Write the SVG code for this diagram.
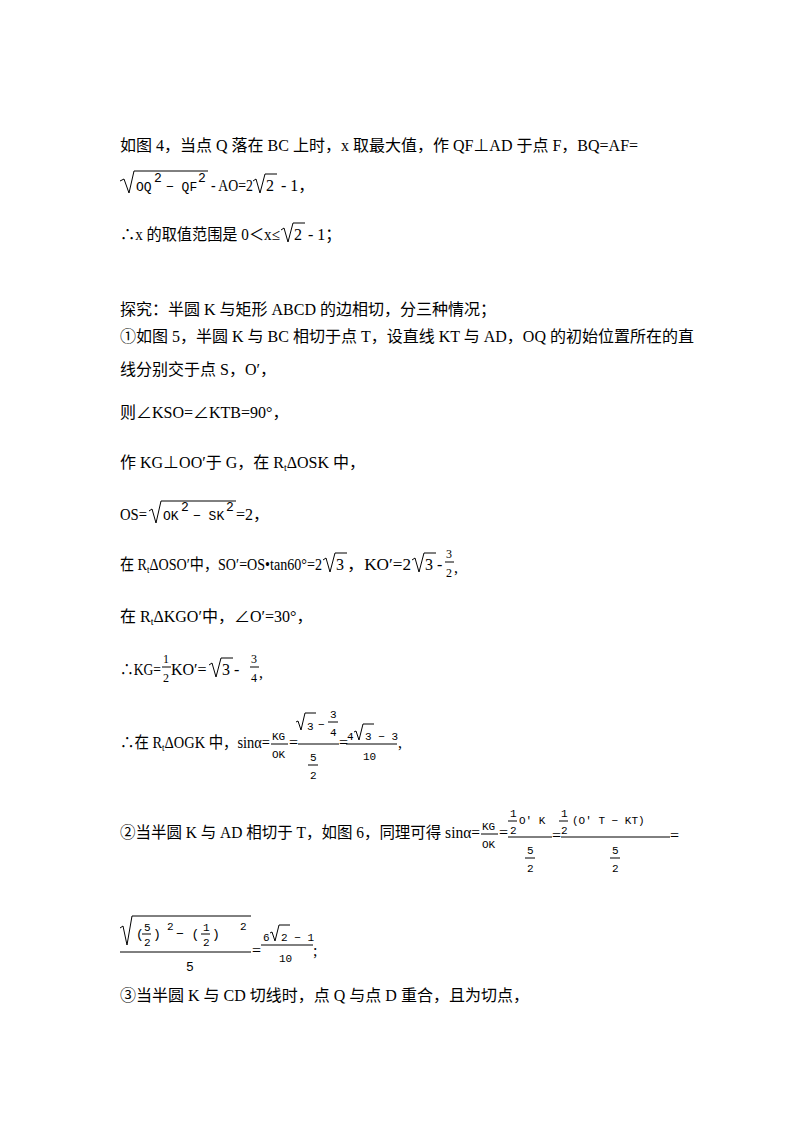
<svg xmlns="http://www.w3.org/2000/svg" width="800" height="1132" viewBox="0 0 800 1132">
<style>
text{font-family:"Liberation Serif","Noto Sans CJK SC",serif;font-size:16px;fill:#000}
.m{font-family:"Liberation Mono","Noto Sans CJK SC",monospace;font-size:13px}
.f{font-family:"Liberation Mono",monospace;font-size:11px}
.s{font-size:12px}
.ln{stroke:#000;stroke-width:1;fill:none}
</style>
<rect width="800" height="1132" fill="#fff"/>
<g id="text">
<text x="120" y="151">如图 4，当点 Q 落在 BC 上时，x 取最大值，作 QF⊥AD 于点 F，BQ=AF=</text>
<path class="ln" d="M120,181 L124,179 L129,193 L134,171 L208,171"/>
<text class="m" x="136" y="191">OQ</text><text class="m" x="154" y="182">2</text><text class="m" x="166" y="191">− QF</text><text class="m" x="198" y="182">2</text>
<text x="211" y="191" textLength="42" lengthAdjust="spacingAndGlyphs">- AO=2</text>
<path class="ln" d="M253,181 L256,179 L260,193 L265,174 L277,174"/>
<text x="266" y="191">2</text>
<text x="281" y="191">- 1，</text>
<text x="120" y="240" textLength="160" lengthAdjust="spacingAndGlyphs">∴x 的取值范围是 0＜x≤</text>
<path class="ln" d="M281,230 L284,228 L288,242 L293,223 L305,223"/>
<text x="294" y="240">2</text>
<text x="308" y="240">- 1；</text>
<text x="120" y="315">探究：半圆 K 与矩形 ABCD 的边相切，分三种情况；</text>
<text x="120" y="342">①如图 5，半圆 K 与 BC 相切于点 T，设直线 KT 与 AD，OQ 的初始位置所在的直</text>
<text x="120" y="375">线分别交于点 S，O′，</text>
<text x="120" y="418">则∠KSO=∠KTB=90°，</text>
<text x="120" y="468">作 KG⊥OO′于 G，在 R<tspan font-size="10" dy="3">t</tspan><tspan dy="-3">ΔOSK 中，</tspan></text>
<text x="120" y="520" textLength="27" lengthAdjust="spacingAndGlyphs">OS=</text>
<path class="ln" d="M149,511 L152,509 L156,523 L161,501 L236,501"/>
<text class="m" x="163" y="520">OK</text><text class="m" x="181" y="511">2</text><text class="m" x="193" y="520">− SK</text><text class="m" x="226" y="511">2</text>
<text x="236" y="520">=2，</text>
<text x="120" y="570" textLength="202" lengthAdjust="spacingAndGlyphs">在 R<tspan font-size="10" dy="3">t</tspan><tspan dy="-3">ΔOSO′中，SO′=OS•tan60°=2</tspan></text>
<path class="ln" d="M323,560 L326,558 L330,572 L335,553 L347,553"/>
<text x="336" y="570">3</text>
<text x="347" y="570" textLength="64" lengthAdjust="spacingAndGlyphs">，KO′=2</text>
<path class="ln" d="M412,560 L415,558 L419,572 L424,553 L436,553"/>
<text x="425" y="570">3 -</text>
<text x="446" y="558" class="s">3</text><line class="ln" x1="445" y1="562" x2="454" y2="562"/><text x="446" y="577" class="s">2</text>
<text x="454" y="573">,</text>
<text x="120" y="622">在 R<tspan font-size="10" dy="3">t</tspan><tspan dy="-3">ΔKGO′中，∠O′=30°，</tspan></text>
<text x="120" y="675" textLength="41" lengthAdjust="spacingAndGlyphs">∴KG=</text>
<text x="163" y="663" class="s">1</text><line class="ln" x1="162" y1="667" x2="171" y2="667"/><text x="163" y="682" class="s">2</text>
<text x="171" y="675">KO′=</text>
<path class="ln" d="M209,665 L212,663 L216,677 L221,658 L233,658"/>
<text x="222" y="675">3 -</text>
<text x="251" y="663" class="s">3</text><line class="ln" x1="250" y1="667" x2="259" y2="667"/><text x="251" y="682" class="s">4</text>
<text x="259" y="678">,</text>
<text x="120" y="748" textLength="150" lengthAdjust="spacingAndGlyphs">∴在 R<tspan font-size="10" dy="3">t</tspan><tspan dy="-3">ΔOGK 中，sinα=</tspan></text>
<text class="f" x="272" y="740">KG</text><line class="ln" x1="271" y1="744" x2="288" y2="744"/><text class="f" x="272" y="758">OK</text>
<text x="289" y="748">=</text>
<path class="ln" d="M296,722 L298,721 L301,730 L305,713 L316,713"/>
<text class="f" x="307" y="730">3</text><text class="f" x="318" y="728">−</text>
<text class="f" x="330" y="718">3</text><line class="ln" x1="328" y1="722" x2="338" y2="722"/><text class="f" x="330" y="736">4</text>
<line class="ln" x1="298" y1="744" x2="339" y2="744"/>
<text class="f" x="310" y="761">5</text><line class="ln" x1="308" y1="765" x2="318" y2="765"/><text class="f" x="310" y="779">2</text>
<text x="339" y="748">=</text>
<text class="f" x="347" y="740">4</text>
<path class="ln" d="M354,732 L356,731 L359,740 L363,724 L374,724"/>
<text class="f" x="365" y="740">3 − 3</text>
<line class="ln" x1="346" y1="744" x2="397" y2="744"/>
<text class="f" x="363" y="760">10</text>
<text x="398" y="748">,</text>
<text x="120" y="838" textLength="360" lengthAdjust="spacingAndGlyphs">②当半圆 K 与 AD 相切于 T，如图 6，同理可得 sinα=</text>
<text class="f" x="482" y="830">KG</text><line class="ln" x1="481" y1="834" x2="498" y2="834"/><text class="f" x="482" y="848">OK</text>
<text x="499" y="838">=</text>
<text class="f" x="510" y="817">1</text><line class="ln" x1="508" y1="821" x2="517" y2="821"/><text class="f" x="510" y="834">2</text>
<text class="f" x="519" y="824">O′ K</text>
<line class="ln" x1="508" y1="837" x2="552" y2="837"/>
<text class="f" x="527" y="854">5</text><line class="ln" x1="525" y1="858" x2="535" y2="858"/><text class="f" x="527" y="872">2</text>
<text x="552" y="841">=</text>
<text class="f" x="561" y="817">1</text><line class="ln" x1="559" y1="821" x2="568" y2="821"/><text class="f" x="561" y="834">2</text>
<text class="f" x="572" y="824">(O′ T − KT)</text>
<line class="ln" x1="561" y1="837" x2="670" y2="837"/>
<text class="f" x="612" y="854">5</text><line class="ln" x1="610" y1="858" x2="620" y2="858"/><text class="f" x="612" y="872">2</text>
<text x="670" y="841">=</text>
<path class="ln" d="M120,928 L123,926 L127,945 L132,916 L251,916"/>
<text class="m" x="136" y="938">(</text>
<text class="f" x="144" y="931">5</text><line class="ln" x1="142" y1="934" x2="151" y2="934"/><text class="f" x="144" y="946">2</text>
<text class="m" x="153" y="938">)</text><text class="f" x="167" y="930">2</text>
<text class="m" x="176" y="938">− (</text>
<text class="f" x="203" y="931">1</text><line class="ln" x1="201" y1="934" x2="210" y2="934"/><text class="f" x="203" y="946">2</text>
<text class="m" x="212" y="938">)</text><text class="f" x="240" y="930">2</text>
<line class="ln" x1="120" y1="952" x2="251" y2="952"/>
<text class="m" x="186" y="971">5</text>
<text x="252" y="956">=</text>
<text class="f" x="263" y="941">6</text>
<path class="ln" d="M270,933 L272,932 L275,941 L279,925 L290,925"/>
<text class="f" x="281" y="941">2 − 1</text>
<line class="ln" x1="261" y1="945" x2="313" y2="945"/>
<text class="f" x="279" y="962">10</text>
<text x="313" y="956">;</text>
<text x="120" y="1001">③当半圆 K 与 CD 切线时，点 Q 与点 D 重合，且为切点，</text>
</g>
</svg>
